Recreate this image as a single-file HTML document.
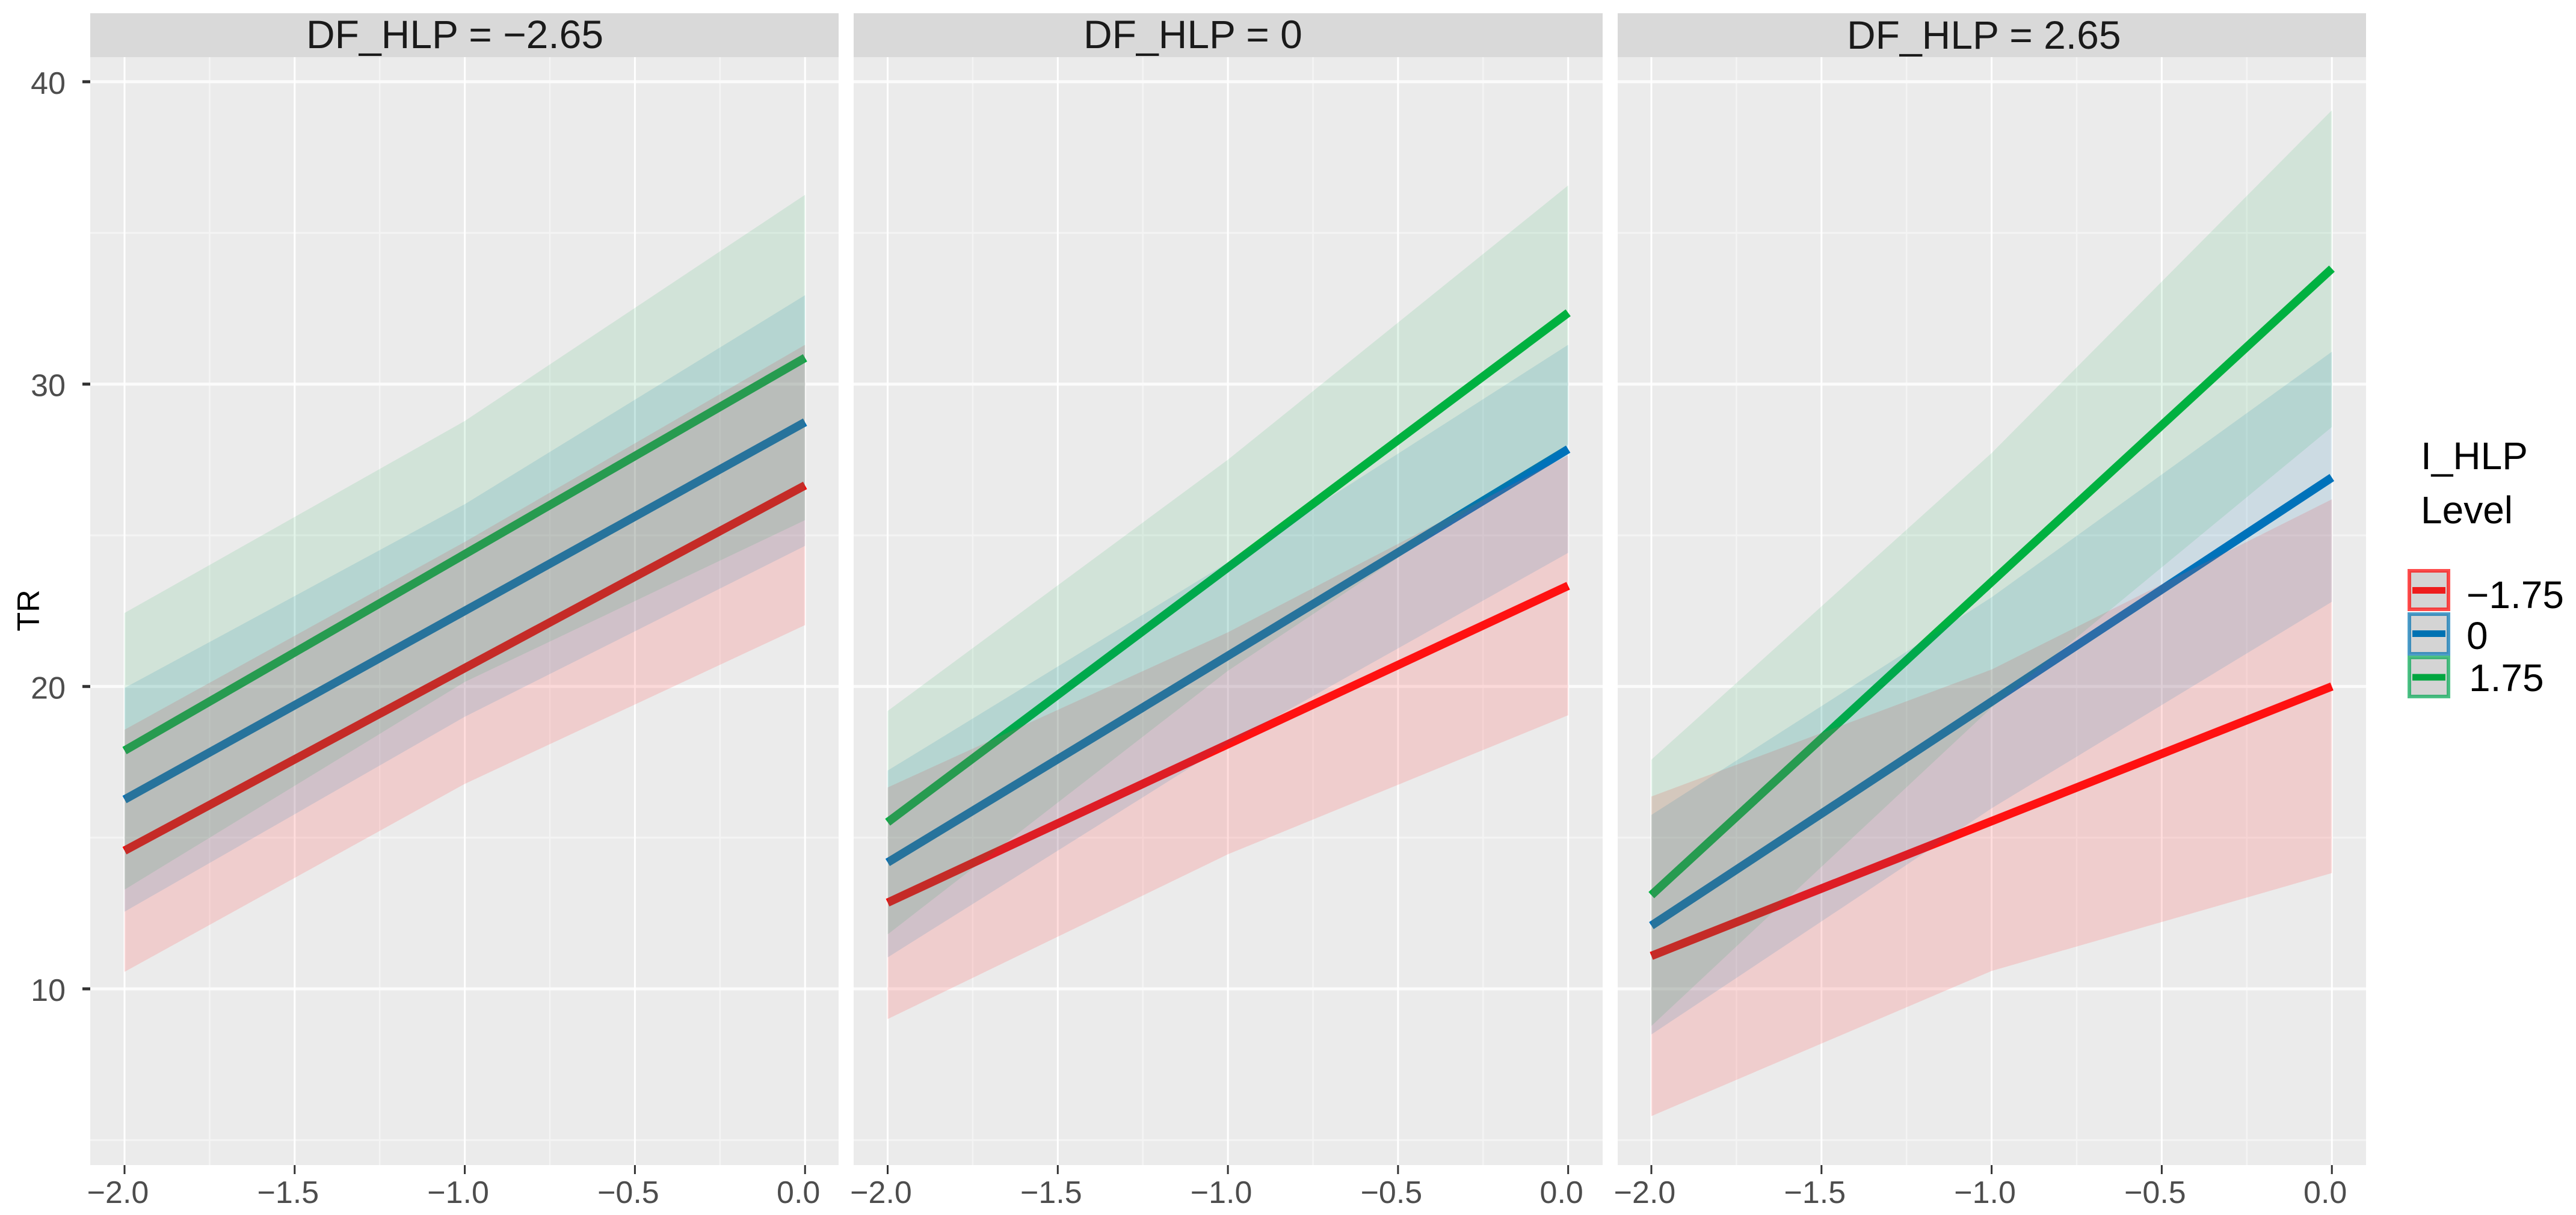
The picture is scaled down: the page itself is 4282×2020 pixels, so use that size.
<!DOCTYPE html>
<html lang="en">
<head>
<meta charset="utf-8">
<title>TR by I_HLP level across DF_HLP facets</title>
<style>
html,body{margin:0;padding:0;background:#fff;}
svg{display:block;font-family:"Liberation Sans",Arial,sans-serif;}
</style>
</head>
<body>
<svg id="chart" xmlns="http://www.w3.org/2000/svg" width="4282" height="2020" viewBox="0 0 4282 2020">
  <rect x="0" y="0" width="4282" height="2020" fill="#ffffff"/>

  <g>
    <rect x="150" y="22" width="1244" height="73" fill="#d9d9d9"/>
    <rect x="1419" y="22" width="1245" height="73" fill="#d9d9d9"/>
    <rect x="2689" y="22" width="1244" height="73" fill="#d9d9d9"/>
    <text x="509" y="80" font-size="66" fill="#1a1a1a">DF_HLP = −2.65</text>
    <text x="1801" y="80" font-size="66" fill="#1a1a1a">DF_HLP = 0</text>
    <text x="3070" y="81" font-size="66" fill="#1a1a1a">DF_HLP = 2.65</text>
  </g>

  <g id="panel-0">
    <rect x="150" y="95" width="1244" height="1842" fill="#ebebeb"/>
  </g>
  <g id="panel-1">
    <rect x="1419" y="95" width="1245" height="1842" fill="#ebebeb"/>
  </g>
  <g id="panel-2">
    <rect x="2689" y="95" width="1244" height="1842" fill="#ebebeb"/>
  </g>

  <g id="axes"></g>

  <text transform="translate(65,1015) rotate(-90)" text-anchor="middle" font-size="52" fill="#000000">TR</text>

  <g>
    <text x="4024" y="780" font-size="64" fill="#000000">I_HLP</text>
    <text x="4024" y="870" font-size="64" fill="#000000">Level</text>

    <g>
      <rect x="4005" y="949" width="65" height="64" fill="#d4d4d4" stroke="#ff0000" stroke-opacity="0.7" stroke-width="6"/>
      <line x1="4010" x2="4065" y1="981.5" y2="981.5" stroke="#ee1c1c" stroke-width="11"/>
      <text x="4100" y="1011" font-size="64" fill="#000000">−1.75</text>
    </g>
    <g>
      <rect x="4005" y="1021" width="65" height="66" fill="#d4d4d4" stroke="#0072b2" stroke-opacity="0.7" stroke-width="6"/>
      <line x1="4010" x2="4065" y1="1053.5" y2="1053.5" stroke="#0072b2" stroke-width="11"/>
      <text x="4100" y="1079" font-size="64" fill="#000000">0</text>
    </g>
    <g>
      <rect x="4005" y="1093" width="65" height="65" fill="#d4d4d4" stroke="#00a651" stroke-opacity="0.7" stroke-width="6"/>
      <line x1="4010" x2="4065" y1="1126" y2="1126" stroke="#00a640" stroke-width="11"/>
      <text x="4104" y="1149" font-size="64" fill="#000000">1.75</text>
    </g>
  </g>
</svg>

<script>
// Axis values
const xMajor = [-2, -1.5, -1, -0.5, 0];
const xMinor = [-1.75, -1.25, -0.75, -0.25];
const yMajor = [10, 20, 30, 40];
const yMinor = [5, 15, 25, 35];
const xTickLabels = ["−2.0", "−1.5", "−1.0", "−0.5", "0.0"];
const yTickLabels = ["10", "20", "30", "40"];

// Ribbons are read at x = -2, -1, 0; fitted lines at x = -2, 0
const ribbonX = [-2, -1, 0];
const lineX = [-2, 0];

// DF_HLP = -2.65
const leftRedLower = [10.56, 16.78, 22.03];
const leftRedUpper = [18.57, 24.78, 31.3];
const leftBlueLower = [12.55, 19.0, 24.65];
const leftBlueUpper = [19.95, 26.03, 32.94];
const leftGreenLower = [13.28, 20.15, 25.5];
const leftGreenUpper = [22.43, 28.78, 36.26];
const leftRedLine = [14.57, 26.65];
const leftBlueLine = [16.26, 28.74];
const leftGreenLine = [17.88, 30.87];

// DF_HLP = 0
const midRedLower = [9.0, 14.45, 19.05];
const midRedUpper = [16.66, 21.79, 27.64];
const midBlueLower = [11.04, 18.1, 24.42];
const midBlueUpper = [17.22, 24.1, 31.3];
const midGreenLower = [11.8, 20.52, 28.0];
const midGreenUpper = [19.19, 27.5, 36.57];
const midRedLine = [12.85, 23.33];
const midBlueLine = [14.18, 27.85];
const midGreenLine = [15.51, 32.36];

// DF_HLP = 2.65
const rightRedLower = [5.79, 10.59, 13.83];
const rightRedUpper = [16.36, 20.56, 26.19];
const rightBlueLower = [8.49, 15.97, 22.8];
const rightBlueUpper = [15.75, 22.95, 31.07];
const rightGreenLower = [8.77, 19.3, 28.58];
const rightGreenUpper = [17.58, 27.72, 39.06];
const rightRedLine = [11.09, 20.0];
const rightBlueLine = [12.09, 26.91];
const rightGreenLine = [13.1, 33.82];

const panelSeries = [
  [
    { key: "red", lower: leftRedLower, upper: leftRedUpper, line: leftRedLine },
    { key: "blue", lower: leftBlueLower, upper: leftBlueUpper, line: leftBlueLine },
    { key: "green", lower: leftGreenLower, upper: leftGreenUpper, line: leftGreenLine }
  ],
  [
    { key: "red", lower: midRedLower, upper: midRedUpper, line: midRedLine },
    { key: "blue", lower: midBlueLower, upper: midBlueUpper, line: midBlueLine },
    { key: "green", lower: midGreenLower, upper: midGreenUpper, line: midGreenLine }
  ],
  [
    { key: "red", lower: rightRedLower, upper: rightRedUpper, line: rightRedLine },
    { key: "blue", lower: rightBlueLower, upper: rightBlueUpper, line: rightBlueLine },
    { key: "green", lower: rightGreenLower, upper: rightGreenUpper, line: rightGreenLine }
  ]
];

const lineColor = { red: "#ff0000", blue: "#0072bc", green: "#00b340" };
const fillColor = { red: "#ff5555", blue: "#0072b2", green: "#00a640" };
const fillOpacity = { red: 0.2, blue: 0.13, green: 0.11 };
const panelNames = ["left", "middle", "right"];
const panelLeft = [150, 1419, 2689];
const panelRight = [1394, 2664, 3933];
const xAtMinusTwo = [207, 1475.5, 2745];
const PX_PER_X = 565.6;
const PX_PER_Y = 50.27;
const PANEL_TOP = 95;
const PANEL_BOTTOM = 1937;
const NS = "http://www.w3.org/2000/svg";

function xScale(panel, v) { return xAtMinusTwo[panel] + (v + 2) * PX_PER_X; }
function yScale(v) { return 1644 - (v - 10) * PX_PER_Y; }
function make(tag, attrs) {
  const node = document.createElementNS(NS, tag);
  for (const k in attrs) node.setAttribute(k, attrs[k]);
  return node;
}

const axes = document.getElementById("axes");

panelSeries.forEach(function (series, p) {
  const g = document.getElementById("panel-" + p);
  const pname = panelNames[p];

  yMinor.forEach(function (v) {
    const el = make("line", { x1: panelLeft[p], x2: panelRight[p], y1: yScale(v), y2: yScale(v), stroke: "#f4f4f4", "stroke-width": 3 });
    
    
    g.appendChild(el);
  });
  xMinor.forEach(function (v) {
    const el = make("line", { x1: xScale(p, v), x2: xScale(p, v), y1: PANEL_TOP, y2: PANEL_BOTTOM, stroke: "#f4f4f4", "stroke-width": 2.5 });
    
    
    g.appendChild(el);
  });
  yMajor.forEach(function (v) {
    const el = make("line", { x1: panelLeft[p], x2: panelRight[p], y1: yScale(v), y2: yScale(v), stroke: "#fbfbfb", "stroke-width": 5 });
    
    
    g.appendChild(el);
  });
  xMajor.forEach(function (v) {
    const el = make("line", { x1: xScale(p, v), x2: xScale(p, v), y1: PANEL_TOP, y2: PANEL_BOTTOM, stroke: "#ffffff", "stroke-width": 3 });
    
    
    g.appendChild(el);
  });

  // Lines sit beneath the translucent ribbons, as in the reference.
  series.forEach(function (s) {
    const pts = lineX.map(function (x, i) { return xScale(p, x).toFixed(1) + "," + yScale(s.line[i]).toFixed(1); }).join(" ");
    const el = make("polyline", { points: pts, fill: "none", stroke: lineColor[s.key], "stroke-width": 14 });
    
    
    g.appendChild(el);
  });
  series.forEach(function (s) {
    const top = ribbonX.map(function (x, i) { return xScale(p, x).toFixed(1) + "," + yScale(s.upper[i]).toFixed(1); });
    const bottom = ribbonX.map(function (x, i) { return xScale(p, x).toFixed(1) + "," + yScale(s.lower[i]).toFixed(1); }).reverse();
    const el = make("polygon", { points: top.concat(bottom).join(" "), fill: fillColor[s.key], "fill-opacity": fillOpacity[s.key] });
    
    
    g.appendChild(el);
  });

  xMajor.forEach(function (v, i) {
    const tick = make("line", { x1: xScale(p, v), x2: xScale(p, v), y1: PANEL_BOTTOM, y2: PANEL_BOTTOM + 15, stroke: "#333333", "stroke-width": 3 });
    
    
    axes.appendChild(tick);
    const label = make("text", { x: xScale(p, v) - 11, y: 2000, "text-anchor": "middle", "font-size": 52, fill: "#4d4d4d" });
    label.textContent = xTickLabels[i];
    
    
    axes.appendChild(label);
  });
});

yMajor.forEach(function (v, i) {
  const tick = make("line", { x1: 137, x2: 150, y1: yScale(v), y2: yScale(v), stroke: "#333333", "stroke-width": 5 });
  
  
  axes.appendChild(tick);
  const label = make("text", { x: 109, y: yScale(v) + 20, "text-anchor": "end", "font-size": 52, fill: "#4d4d4d" });
  label.textContent = yTickLabels[i];
  
  
  axes.appendChild(label);
});
</script>
</body>
</html>
